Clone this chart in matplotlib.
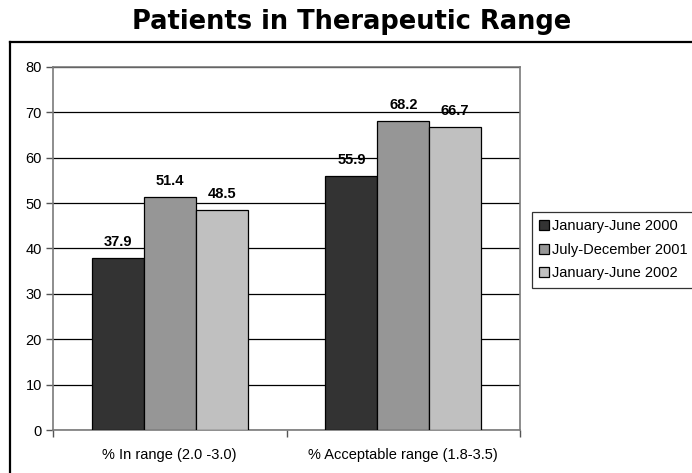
import matplotlib
matplotlib.use("Agg")
import matplotlib.pyplot as plt
from matplotlib.lines import Line2D
import numpy as np

categories = ["% In range (2.0 -3.0)", "% Acceptable range (1.8-3.5)"]
series_names = ["January-June 2000", "July-December 2001", "January-June 2002"]
series_values = [
    [37.9, 55.9],
    [51.4, 68.2],
    [48.5, 66.7],
]
series_colors = ["#333333", "#969696", "#c0c0c0"]
y_ticks = [0, 10, 20, 30, 40, 50, 60, 70, 80]

plt.rcParams["font.family"] = ["Liberation Sans", "DejaVu Sans"]

fig = plt.figure(figsize=(6.92, 4.73), dpi=100)
ax = fig.add_axes([53 / 692, 43 / 473, 467 / 692, 363 / 473])

# outer chart frame (open on right and bottom)
fig.add_artist(Line2D([10 / 692, 1.0], [1 - 42 / 473, 1 - 42 / 473],
                      transform=fig.transFigure, color="black", lw=1.6))
fig.add_artist(Line2D([10 / 692, 10 / 692], [0.0, 1 - 42 / 473],
                      transform=fig.transFigure, color="black", lw=1.6))

fig.text(352 / 692, 1 - 22 / 473, "Patients in Therapeutic Range",
         ha="center", va="center", fontsize=18.5, fontweight="bold",
         family="DejaVu Sans")

x = np.arange(len(categories))
n = len(series_names)
width = 1 / (n + 1.5)
for i, (name, vals, col) in enumerate(zip(series_names, series_values, series_colors)):
    pos = x + (i - (n - 1) / 2) * width
    ax.bar(pos, vals, width=width, color=col, edgecolor="black",
           linewidth=0.9, label=name, zorder=3)
    for p, v in zip(pos, vals):
        ax.annotate(f"{v:.1f}", (p, v), xytext=(0, 6.5), textcoords="offset points",
                    ha="center", va="bottom", fontsize=10.5, fontweight="bold")

ax.set_xlim(-0.5, len(categories) - 0.5)
ax.set_ylim(0, 80)
ax.set_yticks(y_ticks)
ax.set_yticklabels([str(t) for t in y_ticks], fontsize=10.5)
ax.set_xticks(x)
ax.set_xticklabels(categories, fontsize=10.5)
ax.tick_params(axis="x", which="major", length=0, pad=13)
ax.set_xticks(np.arange(-0.5, len(categories)), minor=True)
ax.tick_params(axis="x", which="minor", length=5, width=1, color="#555555", direction="out")
ax.tick_params(axis="y", length=5, width=1, color="#555555", direction="out", pad=3)

ax.grid(axis="y", color="black", linewidth=0.9, zorder=0)
ax.set_axisbelow(True)
for side in ["left", "right", "top", "bottom"]:
    ax.spines[side].set_color("#7a7a7a")
    ax.spines[side].set_linewidth(1.2)

leg = fig.legend(loc="upper left", bbox_to_anchor=(532 / 692, 1 - 212 / 473),
                 fontsize=10.5, frameon=True, fancybox=False, edgecolor="black",
                 handlelength=0.65, handleheight=0.65, handletextpad=0.2,
                 borderpad=0.5, labelspacing=0.65, borderaxespad=0)
leg.get_frame().set_linewidth(0.9)

fig.savefig("out.png", dpi=100)
